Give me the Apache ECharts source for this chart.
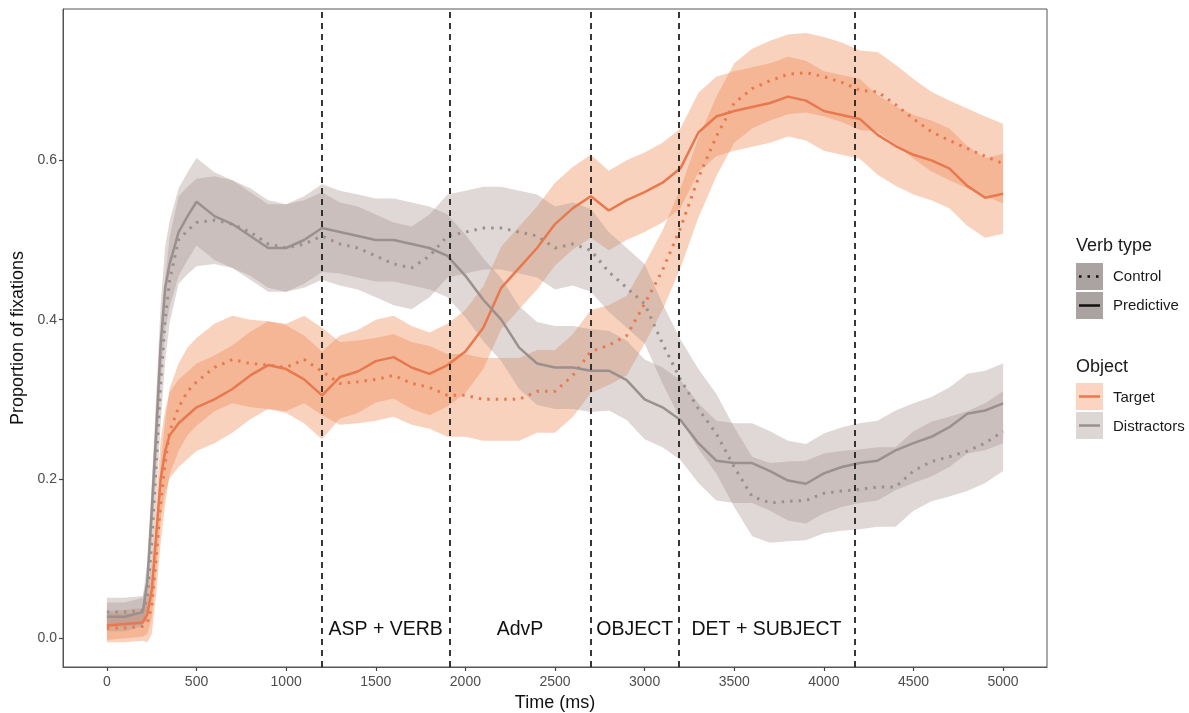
<!DOCTYPE html>
<html>
<head>
<meta charset="utf-8">
<script src="https://cdn.jsdelivr.net/npm/echarts@6/dist/echarts.min.js"></script>
<style>
  html, body { margin: 0; padding: 0; background: #fff; }
  #chart { width: 1189px; height: 713px; }
</style>
</head>
<body>
<div id="chart"></div>
<script>
// time points (ms)
const times = [0, 100, 200, 225, 250, 275, 300, 325, 350, 400, 450, 500,
  600, 700, 800, 900, 1000, 1100, 1200, 1300, 1400, 1500, 1600, 1700, 1800, 1900,
  2000, 2100, 2200, 2300, 2400, 2500, 2600, 2700, 2800, 2900, 3000, 3100, 3200,
  3300, 3400, 3500, 3600, 3700, 3800, 3900, 4000, 4100, 4200, 4300, 4400, 4500,
  4600, 4700, 4800, 4900, 5000];

// Target / Predictive (solid orange)
const targetPredictive = [0.016, 0.018, 0.020, 0.030, 0.060, 0.130, 0.200, 0.235, 0.255, 0.270, 0.280, 0.290,
  0.300, 0.313, 0.330, 0.343, 0.338, 0.325, 0.305, 0.328, 0.335, 0.348, 0.353, 0.340, 0.332, 0.343,
  0.360, 0.390, 0.440, 0.465, 0.490, 0.520, 0.540, 0.555, 0.537, 0.550, 0.560, 0.572, 0.590,
  0.635, 0.655, 0.662, 0.667, 0.672, 0.680, 0.675, 0.662, 0.657, 0.652, 0.632, 0.618, 0.607,
  0.600, 0.590, 0.568, 0.553, 0.558];

// Target / Control (dotted orange)
const targetControl = [0.013, 0.013, 0.015, 0.020, 0.040, 0.100, 0.170, 0.220, 0.260, 0.290, 0.310, 0.322,
  0.340, 0.350, 0.345, 0.343, 0.340, 0.350, 0.335, 0.320, 0.322, 0.325, 0.330, 0.320, 0.315, 0.305,
  0.305, 0.300, 0.300, 0.300, 0.310, 0.310, 0.330, 0.360, 0.368, 0.380, 0.420, 0.462, 0.515,
  0.578, 0.630, 0.672, 0.690, 0.700, 0.708, 0.710, 0.705, 0.698, 0.688, 0.686, 0.670, 0.652,
  0.636, 0.625, 0.615, 0.605, 0.596];

// Distractors / Predictive (solid grey)
const distPredictive = [0.027, 0.027, 0.033, 0.070, 0.160, 0.260, 0.370, 0.440, 0.470, 0.510, 0.530, 0.548,
  0.530, 0.520, 0.505, 0.490, 0.490, 0.500, 0.515, 0.510, 0.505, 0.500, 0.500, 0.495, 0.490, 0.480,
  0.455, 0.425, 0.400, 0.365, 0.345, 0.340, 0.340, 0.336, 0.336, 0.324, 0.300, 0.290, 0.274,
  0.245, 0.223, 0.220, 0.220, 0.210, 0.198, 0.194, 0.207, 0.215, 0.220, 0.223, 0.236, 0.245,
  0.253, 0.265, 0.282, 0.286, 0.295];

// Distractors / Control (dotted grey)
const distControl = [0.033, 0.033, 0.035, 0.050, 0.120, 0.220, 0.320, 0.400, 0.450, 0.500, 0.512, 0.522,
  0.525, 0.520, 0.510, 0.495, 0.490, 0.495, 0.505, 0.495, 0.490, 0.480, 0.470, 0.465, 0.480, 0.505,
  0.510, 0.515, 0.515, 0.510, 0.505, 0.490, 0.495, 0.487, 0.460, 0.440, 0.420, 0.370, 0.325,
  0.288, 0.257, 0.215, 0.178, 0.170, 0.172, 0.173, 0.182, 0.185, 0.187, 0.190, 0.190, 0.210,
  0.222, 0.228, 0.235, 0.245, 0.260];

// half width of the confidence ribbons
const ciHalf = [0.018, 0.018, 0.018, 0.025, 0.035, 0.045, 0.050, 0.052, 0.054, 0.055, 0.055, 0.055,
  0.055, 0.055, 0.055, 0.055, 0.055, 0.055, 0.055, 0.052, 0.052, 0.052, 0.052, 0.052, 0.052, 0.052,
  0.052, 0.052, 0.052, 0.052, 0.052, 0.052, 0.052, 0.052, 0.050, 0.050, 0.050, 0.050, 0.050,
  0.050, 0.050, 0.050, 0.050, 0.050, 0.050, 0.050, 0.050, 0.050, 0.050, 0.050, 0.050, 0.050,
  0.050, 0.050, 0.050, 0.050, 0.050];

// region boundaries and names
const boundaries = [1200, 1910, 2700, 3190, 4170];
const regionNames = ['ASP + VERB', 'AdvP', 'OBJECT', 'DET + SUBJECT'];

const xTicks = [0, 500, 1000, 1500, 2000, 2500, 3000, 3500, 4000, 4500, 5000];
const yTicks = [0, 0.2, 0.4, 0.6];

const ORANGE = '#e8794f';
const GREY = '#9a908e';
const ORANGE_FILL = 'rgba(240,137,85,0.38)';
const GREY_FILL = 'rgba(167,148,142,0.36)';
const FONT = 'Liberation Sans';

function pairs(vals) {
  return times.map((t, i) => [t, vals[i]]);
}

function ribbon(name, vals, fill) {
  return {
    name: name,
    type: 'custom',
    data: pairs(vals),
    z: 1,
    silent: true,
    renderItem: function (params, api) {
      if (params.dataIndex !== 0) return null;
      const pts = [];
      for (let i = 0; i < times.length; i++) {
        pts.push(api.coord([times[i], vals[i] + ciHalf[i]]));
      }
      for (let i = times.length - 1; i >= 0; i--) {
        pts.push(api.coord([times[i], vals[i] - ciHalf[i]]));
      }
      return { type: 'polygon', shape: { points: pts }, style: { fill: fill } };
    }
  };
}

function curve(name, vals, color, dotted) {
  return {
    name: name,
    type: 'line',
    data: pairs(vals),
    showSymbol: false,
    z: 3,
    silent: true,
    lineStyle: { color: color, width: dotted ? 3 : 2.5, type: dotted ? [2.5, 6] : 'solid', cap: 'butt' }
  };
}

const regionLabels = regionNames.map((n, i) => ({
  value: [(boundaries[i] + boundaries[i + 1]) / 2, 0.011],
  name: n
}));

function legendText(x, y, text, size) {
  return {
    type: 'text', x: x, y: y,
    style: { text: text, fontFamily: FONT, fontSize: size, fill: '#1a1a1a', verticalAlign: 'middle' }
  };
}

const chart = echarts.init(document.getElementById('chart'));

const option = {
  animation: false,
  backgroundColor: '#fff',
  grid: {
    left: 63, right: 142, top: 9, bottom: 46,
    outerBoundsMode: 'none',
    show: true, borderColor: '#555', borderWidth: 1
  },
  xAxis: {
    type: 'value', min: -245, max: 5245,
    name: 'Time (ms)', nameLocation: 'middle', nameGap: 27,
    nameTextStyle: { fontFamily: FONT, fontSize: 18, color: '#111' },
    axisLine: { show: true, onZero: false, lineStyle: { color: '#555', width: 1 } },
    splitLine: { show: false },
    axisTick: { show: true, length: 4, lineStyle: { color: '#444', width: 1.2 }, customValues: xTicks },
    axisLabel: {
      customValues: xTicks, fontFamily: FONT, fontSize: 14, color: '#4d4d4d', margin: 8,
      formatter: v => String(v)
    }
  },
  yAxis: {
    type: 'value', min: -0.036, max: 0.79,
    name: 'Proportion of fixations', nameLocation: 'middle', nameGap: 35,
    nameTextStyle: { fontFamily: FONT, fontSize: 18, color: '#111' },
    axisLine: { show: true, onZero: false, lineStyle: { color: '#555', width: 1 } },
    splitLine: { show: false },
    axisTick: { show: true, length: 4, lineStyle: { color: '#444', width: 1.2 }, customValues: yTicks },
    axisLabel: {
      customValues: yTicks, fontFamily: FONT, fontSize: 14, color: '#4d4d4d', margin: 6,
      formatter: v => v.toFixed(1)
    }
  },
  series: [
    ribbon('Target Control band', targetControl, ORANGE_FILL),
    ribbon('Target Predictive band', targetPredictive, ORANGE_FILL),
    ribbon('Distractors Control band', distControl, GREY_FILL),
    ribbon('Distractors Predictive band', distPredictive, GREY_FILL),
    curve('Target Control', targetControl, ORANGE, true),
    curve('Target Predictive', targetPredictive, ORANGE, false),
    curve('Distractors Control', distControl, GREY, true),
    curve('Distractors Predictive', distPredictive, GREY, false),
    {
      name: 'regions',
      type: 'scatter',
      data: regionLabels,
      symbolSize: 1,
      itemStyle: { color: 'rgba(255,255,255,0)', opacity: 1 },
      z: 5,
      silent: true,
      label: {
        show: true, position: 'inside', formatter: p => p.name,
        fontFamily: FONT, fontSize: 19.5, color: '#111'
      },
      markLine: {
        silent: true,
        symbol: ['none', 'none'],
        label: { show: false },
        lineStyle: { color: '#222', type: [6, 5], width: 1.8 },
        data: boundaries.map(b => ({ xAxis: b }))
      }
    }
  ],
  graphic: [
    legendText(1076, 246, 'Verb type', 18),
    { type: 'rect', shape: { x: 1076, y: 263, width: 27, height: 27 }, style: { fill: '#aba3a1' } },
    { type: 'line', shape: { x1: 1079, y1: 276.5, x2: 1100, y2: 276.5 }, style: { stroke: '#111', lineWidth: 2.5, lineDash: [2.5, 6] } },
    legendText(1113, 277, 'Control', 15),
    { type: 'rect', shape: { x: 1076, y: 292, width: 27, height: 27 }, style: { fill: '#aba3a1' } },
    { type: 'line', shape: { x1: 1079, y1: 305.5, x2: 1100, y2: 305.5 }, style: { stroke: '#111', lineWidth: 2.5 } },
    legendText(1113, 306, 'Predictive', 15),

    legendText(1076, 367, 'Object', 18),
    { type: 'rect', shape: { x: 1076, y: 383, width: 27, height: 27 }, style: { fill: '#fbd5c2' } },
    { type: 'line', shape: { x1: 1079, y1: 396.5, x2: 1100, y2: 396.5 }, style: { stroke: ORANGE, lineWidth: 2.5 } },
    legendText(1113, 398, 'Target', 15),
    { type: 'rect', shape: { x: 1076, y: 412, width: 27, height: 27 }, style: { fill: '#dcd6d5' } },
    { type: 'line', shape: { x1: 1079, y1: 425.5, x2: 1100, y2: 425.5 }, style: { stroke: GREY, lineWidth: 2.5 } },
    legendText(1113, 427, 'Distractors', 15)
  ]
};

chart.setOption(option);
</script>
</body>
</html>
